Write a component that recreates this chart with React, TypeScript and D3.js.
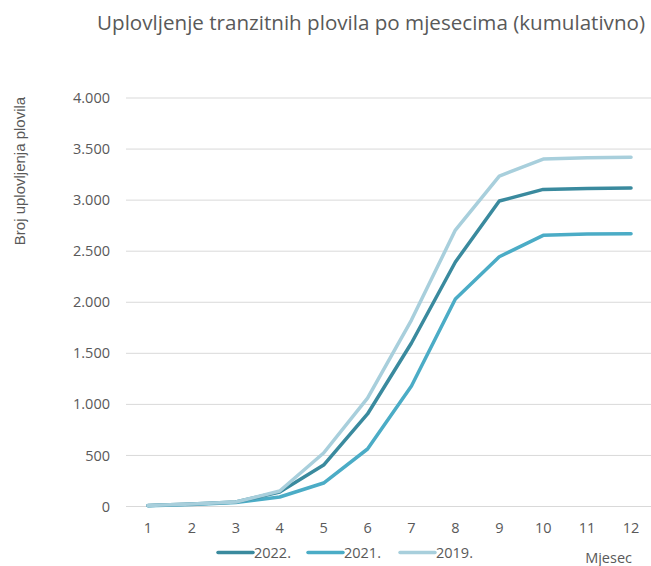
import React, { useEffect, useRef } from 'react';
import * as d3 from 'd3';

const months = ['1', '2', '3', '4', '5', '6', '7', '8', '9', '10', '11', '12'];
const values2022 = [10, 25, 44, 142, 406, 906, 1601, 2394, 2991, 3105, 3115, 3119];
const values2021 = [8, 20, 40, 93, 230, 563, 1180, 2031, 2446, 2655, 2668, 2671];
const values2019 = [10, 25, 44, 152, 524, 1062, 1826, 2707, 3236, 3402, 3415, 3419];
const yTicks = [0, 500, 1000, 1500, 2000, 2500, 3000, 3500, 4000];

const seriesNames = ['2022.', '2021.', '2019.'];
const seriesColors = ['#3a8a9e', '#4bacc6', '#a8cfdc'];

const W = 651;
const H = 566;

export default function App() {
  const ref = useRef<SVGSVGElement>(null);

  useEffect(() => {
    const svg = d3.select(ref.current);
    svg.selectAll('*').remove();

    const font = "'Open Sans', 'Noto Sans', sans-serif";
    const left = 126;
    const right = 653;
    const top = 98;
    const bottom = 506.5;

    const x = d3.scaleBand().domain(months).range([left, right]);
    const y = d3.scaleLinear().domain([0, 4000]).range([bottom, top]);

    // gridlines
    svg.append('g')
      .selectAll('line')
      .data(yTicks)
      .enter()
      .append('line')
      .attr('x1', left)
      .attr('x2', right)
      .attr('y1', d => y(d))
      .attr('y2', d => y(d))
      .attr('stroke', '#d9d9d9')
      .attr('stroke-width', 1);

    // y tick labels
    const fmt = (d: number) => d3.format(',')(d).replace(/,/g, '.');
    svg.append('g')
      .selectAll('text')
      .data(yTicks)
      .enter()
      .append('text')
      .attr('x', 110)
      .attr('y', d => y(d))
      .attr('dy', '0.35em')
      .attr('text-anchor', 'end')
      .attr('font-family', font)
      .attr('font-size', 14.5)
      .attr('fill', '#595959')
      .text(d => fmt(d));

    // x tick labels
    svg.append('g')
      .selectAll('text')
      .data(months)
      .enter()
      .append('text')
      .attr('x', d => (x(d) as number) + x.bandwidth() / 2)
      .attr('y', 533)
      .attr('text-anchor', 'middle')
      .attr('font-family', font)
      .attr('font-size', 14.5)
      .attr('fill', '#595959')
      .text(d => d);

    const allSeries = [values2022, values2021, values2019];
    const line = d3.line<number>()
      .x((_, i) => (x(months[i]) as number) + x.bandwidth() / 2)
      .y(d => y(d));

    // 2021 first, then 2022, then 2019 on top
    [1, 0, 2].forEach(k => {
      svg.append('path')
        .attr('d', line(allSeries[k]) as string)
        .attr('fill', 'none')
        .attr('stroke', seriesColors[k])
        .attr('stroke-width', 3.5)
        .attr('stroke-linejoin', 'round')
        .attr('stroke-linecap', 'round');
    });

    // title
    svg.append('text')
      .attr('x', 645)
      .attr('y', 30)
      .attr('text-anchor', 'end')
      .attr('font-family', font)
      .attr('font-size', 20.6)
      .attr('fill', '#595959')
      .text('Uplovljenje tranzitnih plovila po mjesecima (kumulativno)');

    // y axis label
    svg.append('text')
      .attr('transform', 'translate(25,171) rotate(-90)')
      .attr('text-anchor', 'middle')
      .attr('font-family', "'Liberation Sans', Arial, sans-serif")
      .attr('font-size', 15)
      .attr('fill', '#595959')
      .text('Broj uplovljenja plovila');

    // x axis label
    svg.append('text')
      .attr('x', 632)
      .attr('y', 563)
      .attr('text-anchor', 'end')
      .attr('font-family', font)
      .attr('font-size', 14.5)
      .attr('fill', '#595959')
      .text('Mjesec');

    // legend
    const legendX = [218, 308, 400];
    const lg = svg.append('g');
    seriesNames.forEach((name, i) => {
      lg.append('line')
        .attr('x1', legendX[i])
        .attr('x2', legendX[i] + 35)
        .attr('y1', 552.5)
        .attr('y2', 552.5)
        .attr('stroke', seriesColors[i])
        .attr('stroke-width', 3.5)
        .attr('stroke-linecap', 'round');
      lg.append('text')
        .attr('x', legendX[i] + 36)
        .attr('y', 552.5)
        .attr('dy', '0.35em')
        .attr('font-family', font)
        .attr('font-size', 14.5)
        .attr('fill', '#595959')
        .text(name);
    });
  }, []);

  return (
    <svg ref={ref} width={W} height={H} style={{ position: 'absolute', left: 0, top: 0, background: '#fff' }} />
  );
}
